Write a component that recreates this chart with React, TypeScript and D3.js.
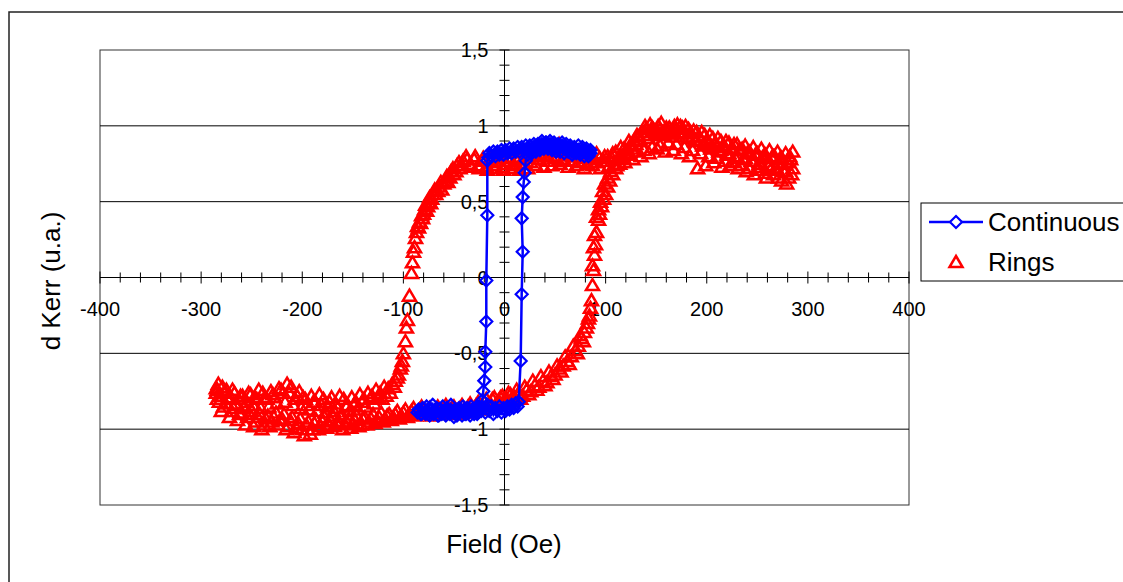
import * as d3 from 'd3';

// Field (Oe), d Kerr (u.a.)
const contUp: [number, number][] = [
  [-85, -0.87], [-83, -0.9], [-81, -0.86], [-79, -0.89], [-77, -0.85], [-75, -0.9], [-73, -0.87],
  [-71, -0.84], [-69, -0.89], [-67, -0.86], [-65, -0.91], [-63, -0.87], [-61, -0.85], [-59, -0.9],
  [-57, -0.86], [-55, -0.88], [-53, -0.84], [-51, -0.89], [-49, -0.87], [-47, -0.91], [-45, -0.86],
  [-43, -0.88], [-41, -0.85], [-39, -0.9], [-37, -0.86], [-35, -0.89], [-33, -0.85], [-31, -0.88],
  [-29, -0.86], [-27, -0.9], [-25, -0.85], [-23, -0.88], [-21, -0.86], [-19, -0.89], [-17, -0.84],
  [-15, -0.88], [-13, -0.85], [-11, -0.9], [-9, -0.86], [-7, -0.88], [-5, -0.85], [-3, -0.89],
  [-1, -0.86], [1, -0.88], [3, -0.85], [5, -0.87], [7, -0.84], [9, -0.86], [11, -0.83], [13, -0.85],
  [14, -0.82], [16, -0.55], [17, -0.11], [18, 0.17], [17, 0.39], [18, 0.53], [19, 0.63], [20, 0.69],
  [21, 0.77], [23, 0.81], [25, 0.84], [27, 0.82], [29, 0.86], [31, 0.83], [33, 0.87], [35, 0.84],
  [37, 0.88], [39, 0.85], [41, 0.89], [43, 0.85], [45, 0.88], [47, 0.84], [49, 0.87], [51, 0.83],
  [53, 0.86], [55, 0.83], [57, 0.87], [59, 0.82], [61, 0.86], [63, 0.83], [65, 0.85], [67, 0.81],
  [69, 0.85], [71, 0.82], [73, 0.84], [75, 0.81], [77, 0.84], [79, 0.8], [81, 0.83], [83, 0.8],
  [85, 0.82],
];

const contDown: [number, number][] = [
  [85, 0.84], [83, 0.82], [81, 0.85], [79, 0.83], [77, 0.86], [75, 0.83], [73, 0.87], [71, 0.84],
  [69, 0.86], [67, 0.83], [65, 0.87], [63, 0.85], [61, 0.88], [59, 0.85], [57, 0.89], [55, 0.86],
  [53, 0.88], [51, 0.85], [49, 0.89], [47, 0.86], [45, 0.9], [43, 0.87], [41, 0.89], [39, 0.86],
  [37, 0.9], [35, 0.87], [33, 0.88], [31, 0.85], [29, 0.88], [27, 0.85], [25, 0.87], [23, 0.84],
  [21, 0.87], [19, 0.84], [17, 0.86], [15, 0.83], [13, 0.86], [11, 0.83], [9, 0.85], [7, 0.82],
  [5, 0.85], [3, 0.82], [1, 0.84], [-1, 0.81], [-3, 0.84], [-5, 0.81], [-7, 0.83], [-9, 0.8],
  [-11, 0.83], [-13, 0.8], [-15, 0.82], [-16, 0.79], [-17, 0.77], [-17, 0.41], [-18, -0.02],
  [-18, -0.29], [-19, -0.49], [-19, -0.59], [-20, -0.68], [-21, -0.75], [-22, -0.81], [-24, -0.86],
  [-26, -0.89], [-28, -0.86], [-30, -0.9], [-32, -0.87], [-34, -0.91], [-36, -0.88], [-38, -0.9],
  [-40, -0.87], [-42, -0.91], [-44, -0.88], [-46, -0.9], [-48, -0.87], [-50, -0.92], [-52, -0.88],
  [-54, -0.9], [-56, -0.87], [-58, -0.91], [-60, -0.88], [-62, -0.9], [-64, -0.87], [-66, -0.91],
  [-68, -0.88], [-70, -0.9], [-72, -0.87], [-74, -0.91], [-76, -0.88], [-78, -0.9], [-80, -0.87],
  [-82, -0.9], [-84, -0.88], [-86, -0.89],
];

const ringsDown: [number, number][] = [
  [285, 0.72], [281, 0.66], [278, 0.7], [274, 0.64], [270, 0.71], [266, 0.68], [262, 0.74], [258, 0.69],
  [254, 0.75], [250, 0.71], [246, 0.77], [242, 0.72], [238, 0.79], [234, 0.74], [230, 0.8], [226, 0.76],
  [222, 0.82], [218, 0.77], [214, 0.84], [210, 0.79], [206, 0.86], [202, 0.8], [198, 0.88], [194, 0.82],
  [190, 0.9], [186, 0.84], [182, 0.92], [178, 0.86], [174, 0.95], [170, 0.88], [166, 0.97], [162, 0.89],
  [158, 0.96], [154, 0.87], [150, 0.94], [146, 0.86], [142, 0.92], [138, 0.84], [134, 0.9], [130, 0.83],
  [126, 0.87], [122, 0.81], [118, 0.85], [114, 0.8], [110, 0.83], [106, 0.79], [102, 0.8], [98, 0.77],
  [94, 0.79], [90, 0.76], [86, 0.78], [82, 0.75], [78, 0.79], [74, 0.76], [70, 0.8], [66, 0.77],
  [62, 0.81], [58, 0.78], [54, 0.88], [50, 0.79], [46, 0.8], [42, 0.77], [38, 0.81], [34, 0.78],
  [30, 0.8], [26, 0.76], [22, 0.79], [18, 0.75], [14, 0.78], [10, 0.74], [6, 0.77], [2, 0.75],
  [-2, 0.73], [-6, 0.77], [-10, 0.74], [-14, 0.76], [-18, 0.73], [-22, 0.77], [-26, 0.74], [-30, 0.78],
  [-34, 0.75], [-38, 0.8], [-42, 0.74], [-45, 0.76], [-48, 0.7], [-51, 0.72], [-54, 0.66], [-57, 0.67],
  [-60, 0.62], [-63, 0.63], [-66, 0.57], [-69, 0.58], [-72, 0.52], [-74, 0.53], [-76, 0.47], [-78, 0.48],
  [-80, 0.42], [-82, 0.41], [-84, 0.37], [-86, 0.34], [-87, 0.3], [-89, 0.2], [-91, 0.1], [-92, 0.03],
  [-94, -0.12], [-96, -0.28], [-97, -0.33], [-98, -0.42], [-100, -0.5], [-101, -0.55], [-103, -0.6],
  [-105, -0.64], [-108, -0.68], [-111, -0.7], [-115, -0.73], [-119, -0.72], [-123, -0.76], [-127, -0.74],
  [-131, -0.78], [-135, -0.76], [-139, -0.8], [-143, -0.77], [-147, -0.82], [-151, -0.79], [-155, -0.84],
  [-159, -0.8], [-163, -0.78], [-167, -0.83], [-171, -0.79], [-175, -0.85], [-179, -0.8], [-183, -0.77],
  [-187, -0.82], [-191, -0.78], [-195, -0.84], [-199, -0.79], [-203, -0.75], [-207, -0.8], [-211, -0.72],
  [-215, -0.7], [-219, -0.76], [-223, -0.73], [-227, -0.79], [-231, -0.75], [-235, -0.8], [-239, -0.76],
  [-243, -0.74], [-247, -0.79], [-251, -0.77], [-255, -0.82], [-259, -0.78], [-263, -0.8], [-267, -0.76],
  [-271, -0.79], [-275, -0.74], [-279, -0.72], [-283, -0.7], [-285, -0.73],
];

const ringsDown2: [number, number][] = [
  [283, 0.78], [279, 0.62], [275, 0.75], [271, 0.66], [267, 0.8], [263, 0.71], [259, 0.66], [255, 0.79],
  [251, 0.73], [247, 0.68], [243, 0.82], [239, 0.7], [235, 0.85], [231, 0.72], [227, 0.88], [223, 0.74],
  [219, 0.9], [215, 0.73], [211, 0.92], [207, 0.76], [203, 0.94], [199, 0.74], [195, 0.96], [191, 0.72],
  [187, 0.97], [183, 0.8], [179, 1.0], [175, 0.82], [171, 1.01], [167, 0.84], [163, 0.99], [159, 0.83],
  [155, 1.02], [151, 0.85], [147, 0.98], [143, 0.82], [139, 1.0], [135, 0.8], [131, 0.94], [127, 0.78],
  [123, 0.9], [119, 0.76], [115, 0.86], [111, 0.74], [107, 0.82], [103, 0.73], [99, 0.8], [95, 0.72],
  [91, 0.82], [87, 0.74], [83, 0.8], [79, 0.72], [75, 0.82], [71, 0.74], [67, 0.8], [63, 0.73],
  [59, 0.77], [55, 0.75], [51, 0.83], [47, 0.74], [43, 0.8], [39, 0.73], [35, 0.8], [31, 0.74],
  [27, 0.82], [23, 0.72], [19, 0.79], [15, 0.71], [11, 0.78], [7, 0.72], [3, 0.79], [-1, 0.71],
  [-5, 0.79], [-9, 0.72], [-13, 0.8], [-17, 0.71], [-21, 0.79], [-25, 0.72], [-29, 0.8], [-33, 0.73],
  [-37, 0.78], [-41, 0.77], [-44, 0.72], [-47, 0.74], [-50, 0.68], [-53, 0.7], [-56, 0.63], [-59, 0.64],
  [-62, 0.58], [-65, 0.6], [-68, 0.55], [-71, 0.55], [-73, 0.49], [-75, 0.5], [-77, 0.44], [-79, 0.45],
  [-81, 0.39], [-83, 0.36], [-85, 0.33], [-88, 0.26], [-90, 0.17], [-102, -0.58], [-106, -0.66],
  [-109, -0.72], [-113, -0.76], [-117, -0.78], [-121, -0.8], [-125, -0.79], [-129, -0.83], [-133, -0.8],
  [-137, -0.85], [-141, -0.82], [-145, -0.87], [-149, -0.84], [-153, -0.88], [-157, -0.85], [-161, -0.9],
  [-165, -0.86], [-169, -0.88], [-173, -0.82], [-177, -0.89], [-181, -0.84], [-185, -0.88], [-189, -0.82],
  [-193, -0.87], [-197, -0.8], [-201, -0.86], [-205, -0.78], [-209, -0.84], [-213, -0.76], [-217, -0.82],
  [-221, -0.74], [-225, -0.83], [-229, -0.77], [-233, -0.85], [-237, -0.79], [-241, -0.86], [-245, -0.8],
  [-249, -0.84], [-253, -0.76], [-257, -0.85], [-261, -0.78], [-265, -0.83], [-269, -0.74], [-273, -0.8],
  [-277, -0.76], [-281, -0.78], [-284, -0.74],
];

const ringsUp: [number, number][] = [
  [-285, -0.76], [-282, -0.82], [-278, -0.85], [-274, -0.8], [-270, -0.88], [-266, -0.84], [-262, -0.9],
  [-258, -0.86], [-254, -0.92], [-250, -0.88], [-246, -0.95], [-242, -0.9], [-238, -0.97], [-234, -0.91],
  [-230, -0.95], [-226, -0.89], [-222, -0.94], [-218, -0.9], [-214, -0.98], [-210, -0.92], [-206, -0.99],
  [-202, -0.93], [-198, -1.04], [-194, -0.95], [-190, -1.0], [-186, -0.94], [-182, -0.98], [-178, -0.92],
  [-174, -0.97], [-170, -0.91], [-166, -0.96], [-162, -0.92], [-158, -0.97], [-154, -0.93], [-150, -0.96],
  [-146, -0.91], [-142, -0.97], [-138, -0.92], [-134, -0.95], [-130, -0.9], [-126, -0.94], [-122, -0.89],
  [-118, -0.93], [-114, -0.9], [-110, -0.92], [-106, -0.88], [-102, -0.91], [-98, -0.87], [-94, -0.9],
  [-90, -0.86], [-86, -0.89], [-82, -0.85], [-78, -0.88], [-74, -0.86], [-70, -0.89], [-66, -0.85],
  [-62, -0.88], [-58, -0.84], [-54, -0.87], [-50, -0.85], [-46, -0.88], [-42, -0.84], [-38, -0.87],
  [-34, -0.83], [-30, -0.86], [-26, -0.82], [-22, -0.85], [-18, -0.8], [-14, -0.83], [-10, -0.79],
  [-6, -0.81], [-2, -0.78], [2, -0.8], [6, -0.77], [10, -0.79], [14, -0.76], [18, -0.78], [22, -0.74],
  [26, -0.75], [30, -0.71], [34, -0.72], [38, -0.68], [42, -0.69], [46, -0.65], [50, -0.64], [54, -0.6],
  [58, -0.58], [62, -0.55], [66, -0.52], [70, -0.48], [73, -0.45], [76, -0.4], [79, -0.36], [82, -0.3],
  [84, -0.25], [86, -0.15], [87, -0.05], [88, 0.05], [89, 0.15], [90, 0.22], [91, 0.3], [93, 0.38],
  [94, 0.42], [96, 0.47], [98, 0.52], [100, 0.55], [102, 0.6], [104, 0.64], [107, 0.68], [110, 0.72],
  [114, 0.75], [118, 0.79], [122, 0.82], [126, 0.85], [130, 0.88], [134, 0.91], [138, 0.94], [142, 0.96],
  [146, 0.99], [150, 0.95], [154, 0.98], [158, 0.94], [162, 0.97], [166, 0.93], [170, 0.98], [174, 1.0],
  [178, 0.95], [182, 0.98], [186, 0.93], [190, 0.96], [194, 0.91], [198, 0.94], [202, 0.89], [206, 0.92],
  [210, 0.87], [214, 0.9], [218, 0.86], [222, 0.89], [226, 0.85], [230, 0.88], [234, 0.84], [238, 0.87],
  [242, 0.83], [246, 0.86], [250, 0.82], [254, 0.85], [258, 0.81], [262, 0.84], [266, 0.8], [270, 0.83],
  [274, 0.79], [278, 0.82], [282, 0.8], [285, 0.83],
];

const ringsUp2: [number, number][] = [
  [-284, -0.8], [-280, -0.88], [-276, -0.83], [-272, -0.92], [-268, -0.86], [-264, -0.94], [-260, -0.89],
  [-256, -0.97], [-252, -0.9], [-248, -0.98], [-244, -0.92], [-240, -1.0], [-236, -0.93], [-232, -0.98],
  [-228, -0.92], [-224, -0.97], [-220, -0.93], [-216, -1.0], [-212, -0.94], [-208, -1.02], [-204, -0.96],
  [-200, -1.0], [-196, -0.97], [-192, -1.03], [-188, -0.96], [-184, -1.0], [-180, -0.95], [-176, -0.99],
  [-172, -0.94], [-168, -0.98], [-164, -0.95], [-160, -1.0], [-156, -0.95], [-152, -0.99], [-148, -0.94],
  [-144, -0.98], [-140, -0.93], [-136, -0.97], [-132, -0.93], [-128, -0.96], [-124, -0.92], [-120, -0.95],
  [-116, -0.91], [-112, -0.94], [-108, -0.9], [-104, -0.93], [-100, -0.89], [-96, -0.92], [-92, -0.88],
  [-88, -0.91], [-84, -0.87], [-80, -0.9], [-76, -0.88], [-72, -0.91], [-68, -0.87], [-64, -0.9],
  [-60, -0.86], [-56, -0.89], [-52, -0.86], [-48, -0.9], [-44, -0.86], [-40, -0.89], [-36, -0.85],
  [-32, -0.88], [-28, -0.84], [-24, -0.87], [-20, -0.82], [-16, -0.85], [-12, -0.8], [-8, -0.83],
  [-4, -0.79], [0, -0.82], [4, -0.76], [8, -0.81], [12, -0.74], [16, -0.8], [20, -0.72], [24, -0.77],
  [28, -0.68], [32, -0.74], [36, -0.65], [40, -0.71], [44, -0.62], [48, -0.67], [52, -0.58], [56, -0.62],
  [60, -0.52], [64, -0.57], [68, -0.45], [72, -0.5], [75, -0.38], [78, -0.42], [81, -0.33], [83, -0.27],
  [85, -0.2], [87, 0.08], [88, 0.2], [89, 0.28], [91, 0.4], [93, 0.45], [95, 0.5], [97, 0.57], [99, 0.62],
  [102, 0.66], [105, 0.7], [108, 0.74], [112, 0.78], [116, 0.8], [120, 0.84], [124, 0.87], [128, 0.9],
  [132, 0.93], [136, 0.96], [140, 0.98], [144, 1.01], [148, 0.97], [152, 1.0], [156, 0.96], [160, 0.99],
  [164, 0.95], [168, 1.0], [172, 0.96], [176, 0.99], [180, 0.93], [184, 0.96], [188, 0.9], [192, 0.93],
  [196, 0.87], [200, 0.9], [204, 0.85], [208, 0.88], [212, 0.83], [216, 0.87], [220, 0.81], [224, 0.85],
  [228, 0.79], [232, 0.84], [236, 0.78], [240, 0.82], [244, 0.77], [248, 0.81], [252, 0.75], [256, 0.8],
  [260, 0.74], [264, 0.79], [268, 0.72], [272, 0.78], [276, 0.7], [280, 0.76], [284, 0.68],
];

const xMajor = [-400, -300, -200, -100, 0, 100, 200, 300, 400];
const yMajor = [-1.5, -1, -0.5, 0, 0.5, 1, 1.5];
const yLabels = ['-1,5', '-1', '-0,5', '0', '0,5', '1', '1,5'];
const gridValues = [-1, -0.5, 0.5, 1];

const FONT = "'Liberation Sans', Arial, sans-serif";
const W = 1123;
const H = 582;
const PLOT = { left: 100, right: 909, top: 50, bottom: 505 };

const DIAMOND = 'M0,-6L6,0L0,6L-6,0Z';
const TRIANGLE = 'M0,-6L6.5,5L-6.5,5Z';

export default function App() {
  const x = d3.scaleLinear().domain([-400, 400]).range([PLOT.left, PLOT.right]);
  const y = d3.scaleLinear().domain([-1.5, 1.5]).range([PLOT.bottom, PLOT.top]);

  const xMinor = d3.range(-400, 401, 20);
  const yMinor = d3.range(-15, 16).map(v => v / 10);

  const cont = [...contUp, ...contDown];
  const rings = [...ringsDown, ...ringsDown2, ...ringsUp, ...ringsUp2];
  const line = d3.line<[number, number]>().x(d => x(d[0])).y(d => y(d[1]));

  const x0 = x(0);
  const y0 = y(0);

  return (
    <svg width={W} height={H} style={{ position: 'absolute', left: 0, top: 0, background: '#fff' }}
      fontFamily={FONT}>
      {/* outer chart frame */}
      <rect x={9} y={12} width={1140} height={600} fill="#fff" stroke="#222" strokeWidth={1.5} />

      {/* plot area */}
      <rect x={PLOT.left} y={PLOT.top} width={PLOT.right - PLOT.left} height={PLOT.bottom - PLOT.top}
        fill="#fff" stroke="#333" strokeWidth={1} />
      {gridValues.map(v => (
        <line key={v} x1={PLOT.left} x2={PLOT.right} y1={y(v)} y2={y(v)} stroke="#000" strokeWidth={1} />
      ))}

      {/* axes through zero */}
      <line x1={PLOT.left} x2={PLOT.right} y1={y0} y2={y0} stroke="#000" strokeWidth={1} />
      <line x1={x0} x2={x0} y1={PLOT.top} y2={PLOT.bottom} stroke="#000" strokeWidth={1} />
      {xMinor.map(v => {
        const major = v % 100 === 0;
        return <line key={v} x1={x(v)} x2={x(v)} y1={y0 - (major ? 6 : 5)} y2={y0 + (major ? 6 : 5)}
          stroke="#000" strokeWidth={1} />;
      })}
      {yMinor.map(v => (
        <line key={v} x1={x0 - 5} x2={x0 + 5} y1={y(v)} y2={y(v)} stroke="#000" strokeWidth={1} />
      ))}

      {xMajor.map(v => (
        <text key={v} x={x(v)} y={y0 + 38} textAnchor="middle" fontSize={20} fill="#000">{v}</text>
      ))}
      {yMajor.map((v, i) => (
        <text key={v} x={x0 - 16} y={y(v) + 7} textAnchor="end" fontSize={20} fill="#000">{yLabels[i]}</text>
      ))}

      {/* Rings */}
      {rings.map((d, i) => (
        <path key={i} d={TRIANGLE} transform={`translate(${x(d[0])},${y(d[1])})`}
          fill="none" stroke="#ff0000" strokeWidth={2.5} />
      ))}

      {/* Continuous */}
      <path d={line(cont) ?? ''} fill="none" stroke="#0000ff" strokeWidth={2.5} />
      {cont.map((d, i) => (
        <path key={i} d={DIAMOND} transform={`translate(${x(d[0])},${y(d[1])})`}
          fill="none" stroke="#0000ff" strokeWidth={2.2} />
      ))}

      {/* axis titles */}
      <text x={504} y={553} textAnchor="middle" fontSize={26} fill="#000">Field (Oe)</text>
      <text transform="translate(60,281) rotate(-90)" textAnchor="middle" fontSize={26} fill="#000">d Kerr (u.a.)</text>

      {/* legend */}
      <rect x={921} y={203} width={260} height={78} fill="#fff" stroke="#000" strokeWidth={1} />
      <line x1={929} x2={983} y1={222} y2={222} stroke="#0000ff" strokeWidth={2.5} />
      <path d={DIAMOND} transform="translate(956,222)" fill="#fff" stroke="#0000ff" strokeWidth={2.2} />
      <text x={988} y={231} fontSize={26} fill="#000">Continuous</text>
      <path d={TRIANGLE} transform="translate(956,262)" fill="#fff" stroke="#ff0000" strokeWidth={2.5} />
      <text x={988} y={271} fontSize={26} fill="#000">Rings</text>
    </svg>
  );
}
